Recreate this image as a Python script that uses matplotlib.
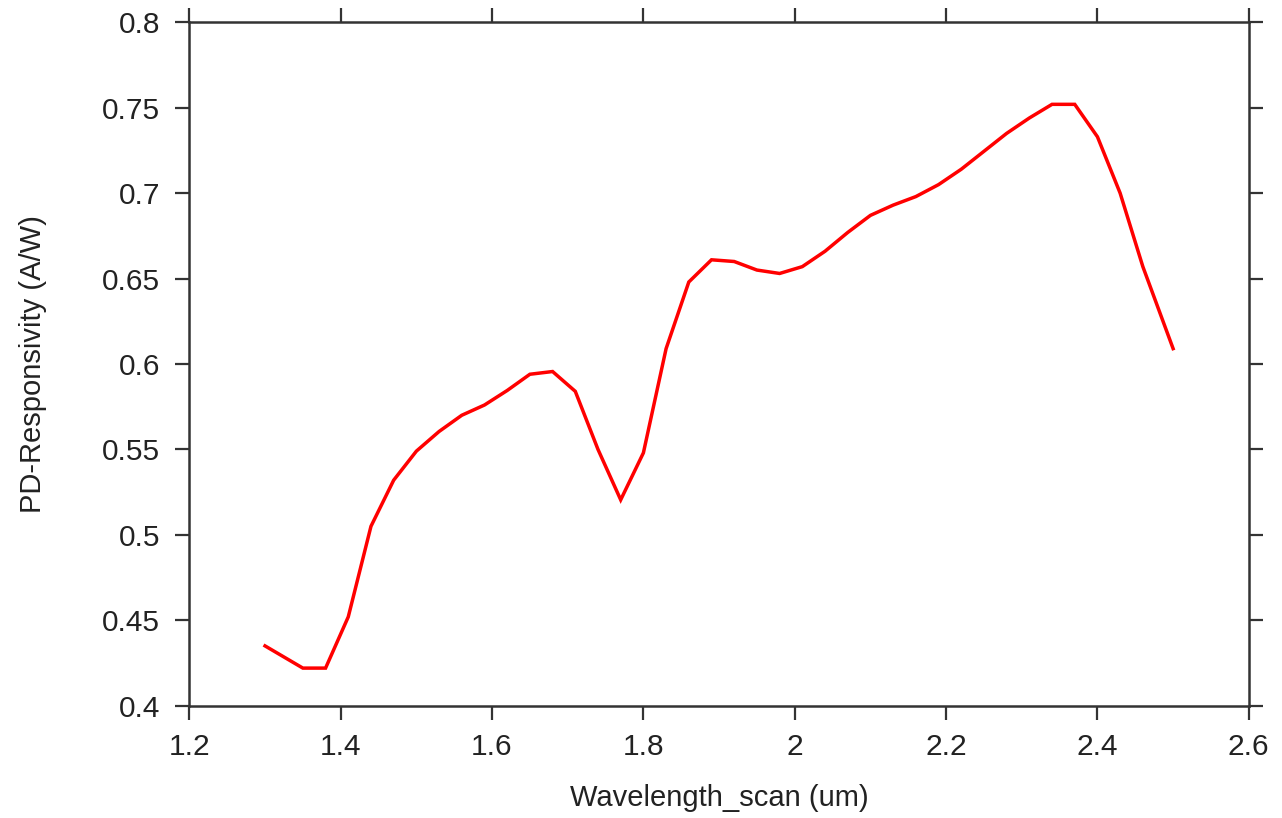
import matplotlib
matplotlib.use("Agg")
import matplotlib.pyplot as plt
from matplotlib.ticker import FuncFormatter, MultipleLocator

# Photodiode responsivity vs. scanned wavelength
wavelength_um = [1.30, 1.35, 1.38, 1.41, 1.44, 1.47, 1.50, 1.53, 1.56, 1.59,
                 1.62, 1.65, 1.68, 1.71, 1.74, 1.77, 1.80, 1.83, 1.86, 1.89,
                 1.92, 1.95, 1.98, 2.01, 2.04, 2.07, 2.10, 2.13, 2.16, 2.19,
                 2.22, 2.25, 2.28, 2.31, 2.34, 2.37, 2.40, 2.43, 2.46, 2.50]
responsivity_aw = [0.435, 0.422, 0.422, 0.452, 0.505, 0.532, 0.549, 0.5605, 0.570, 0.576,
                   0.5845, 0.594, 0.5956, 0.584, 0.550, 0.5205, 0.548, 0.609, 0.648, 0.661,
                   0.660, 0.655, 0.653, 0.657, 0.666, 0.677, 0.687, 0.693, 0.698, 0.705,
                   0.714, 0.7245, 0.735, 0.744, 0.752, 0.752, 0.733, 0.700, 0.657, 0.609]

x_label = "Wavelength_scan (um)"
y_label = "PD-Responsivity (A/W)"

plt.rcParams["font.family"] = ["Liberation Sans", "DejaVu Sans"]

fig = plt.figure(figsize=(12.82, 8.18), dpi=100)
ax = fig.add_axes([0.1477, 0.1373, 0.8264, 0.8354])

ax.plot(wavelength_um, responsivity_aw, color="#ff0000", linewidth=2.5,
        solid_joinstyle="miter")

ax.set_xlim(1.2, 2.6)
ax.set_ylim(0.4, 0.8)
ax.xaxis.set_major_locator(MultipleLocator(0.2))
ax.yaxis.set_major_locator(MultipleLocator(0.05))
fmt = FuncFormatter(lambda v, p: f"{v:.2f}".rstrip("0").rstrip(".") if abs(v) > 1e-9 else "0")
ax.xaxis.set_major_formatter(fmt)
ax.yaxis.set_major_formatter(fmt)

spine_color = "#333333"
for s in ax.spines.values():
    s.set_color(spine_color)
    s.set_linewidth(1.8)

ax.tick_params(axis="both", which="major", direction="out", length=10,
               width=1.6, color=spine_color, labelsize=21.5, labelcolor="#222222",
               top=True, right=True, labeltop=False, labelright=False)
ax.tick_params(axis="x", pad=10)
ax.tick_params(axis="y", pad=11)

ax.set_xlabel(x_label, fontsize=21, color="#222222", labelpad=16)
ax.set_ylabel(y_label, fontsize=21, color="#222222", labelpad=40)

fig.savefig("out.png", dpi=100, facecolor="white")
